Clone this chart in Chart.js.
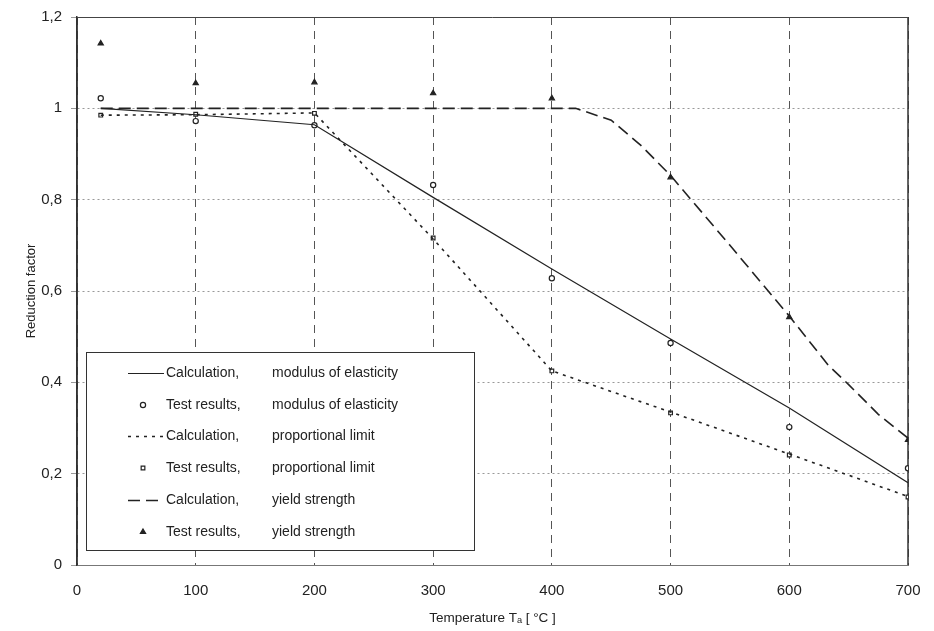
<!DOCTYPE html>
<html><head><meta charset="utf-8">
<script src="https://cdn.jsdelivr.net/npm/chart.js@4.4.0/dist/chart.umd.min.js"></script>
<style>html,body{margin:0;padding:0;background:#fff}#wrap{width:934px;height:631px}</style>
</head><body><div id="wrap"><canvas id="c" width="934" height="631"></canvas></div>
<script>
// Temperatures [°C]
const temps = [20, 100, 200, 300, 400, 500, 600, 700];
const calcModulus = [1.0, 0.986, 0.964, 0.805, 0.648, 0.495, 0.344, 0.18];
const testModulus = [1.022, 0.972, 0.963, 0.832, 0.628, 0.486, 0.302, 0.212];
const calcProp = [0.985, 0.986, 0.99, 0.714, 0.425, 0.335, 0.243, 0.15];
const testProp = [0.985, 0.987, 0.989, 0.716, 0.425, 0.333, 0.241, 0.149];
const yieldTemps = [20, 100, 200, 300, 400, 420, 450, 475, 500, 550, 600, 633, 650, 675, 700];
const calcYield = [1.0, 1.0, 1.0, 1.0, 1.0, 1.0, 0.974, 0.919, 0.853, 0.70, 0.545, 0.437, 0.395, 0.33, 0.278];
const testYield = [1.142, 1.055, 1.057, 1.033, 1.022, 0.849, 0.543, 0.274];
const xTicks = [0, 100, 200, 300, 400, 500, 600, 700];
const yTicks = [0, 0.2, 0.4, 0.6, 0.8, 1, 1.2];
const labels = [
  'Calculation, modulus of elasticity',
  'Test results, modulus of elasticity',
  'Calculation, proportional limit',
  'Test results, proportional limit',
  'Calculation, yield strength',
  'Test results, yield strength'
];

const pts = (xs, ys) => xs.map((x, i) => ({x, y: ys[i]}));
const INK = '#222';
const FONT = '"Liberation Sans", Arial, sans-serif';

const framePlugin = {
  id: 'frame',
  beforeDatasetsDraw(chart) {
    const {ctx, chartArea: a} = chart;
    ctx.save();
    ctx.strokeStyle = '#333';
    ctx.lineWidth = 1.5;
    ctx.beginPath();
    ctx.moveTo(a.right, a.top); ctx.lineTo(a.right, a.bottom);
    ctx.moveTo(a.left, a.top); ctx.lineTo(a.left, a.bottom);
    ctx.stroke();
    ctx.lineWidth = 1;
    ctx.strokeStyle = '#444';
    ctx.beginPath();
    ctx.moveTo(a.left, a.top + 0.5); ctx.lineTo(a.right, a.top + 0.5);
    ctx.stroke();
    ctx.restore();
  }
};

const legendPlugin = {
  id: 'boxLegend',
  afterDatasetsDraw(chart) {
    const {ctx, chartArea: a} = chart;
    const W = 388, H = 198;
    const L = a.left + 9, B = a.bottom - 15, T = B - H;
    ctx.save();
    ctx.fillStyle = '#fff';
    ctx.fillRect(L, T, W, H);
    ctx.strokeStyle = '#333';
    ctx.lineWidth = 1;
    ctx.setLineDash([]);
    ctx.strokeRect(L + 0.5, T + 0.5, W, H);
    ctx.font = '14px ' + FONT;
    ctx.textBaseline = 'middle';
    chart.data.datasets.forEach((ds, i) => {
      const y = Math.round(T + 21 + i * 31.7);
      ctx.strokeStyle = INK;
      if (ds.showLine !== false) {
        ctx.save();
        ctx.lineWidth = ds.borderWidth;
        ctx.setLineDash(ds.borderDash || []);
        ctx.beginPath();
        ctx.moveTo(L + 42, y + 0.5); ctx.lineTo(L + 78, y + 0.5);
        ctx.stroke();
        ctx.restore();
      } else {
        ctx.save();
        ctx.fillStyle = ds.pointBackgroundColor;
        ctx.strokeStyle = ds.pointBorderColor;
        ctx.lineWidth = ds.pointBorderWidth;
        Chart.helpers.drawPoint(ctx, {pointStyle: ds.pointStyle, radius: ds.pointRadius, borderWidth: ds.pointBorderWidth, rotation: 0}, L + 57, y);
        ctx.restore();
      }
      const parts = ds.label.split(', ');
      ctx.fillStyle = INK;
      ctx.fillText(parts[0] + ',', L + 80, y);
      ctx.fillText(parts[1], L + 186, y);
    });
    ctx.restore();
  }
};

const lineDs = (label, data, dash, width) => ({
  label, data, showLine: true, borderColor: INK, borderWidth: width,
  borderDash: dash, pointRadius: 0, fill: false, tension: 0
});
const markDs = (label, data, style, r, filled) => ({
  label, data, showLine: false, pointStyle: style, pointRadius: r,
  pointBorderColor: INK, pointBackgroundColor: filled ? INK : '#fff',
  pointBorderWidth: 1.2, borderColor: INK, backgroundColor: filled ? INK : '#fff'
});

new Chart(document.getElementById('c'), {
  type: 'line',
  data: {
    datasets: [
      lineDs(labels[0], pts(temps, calcModulus), [], 1.2),
      markDs(labels[1], pts(temps, testModulus), 'circle', 2.6, false),
      lineDs(labels[2], pts(temps, calcProp), [3, 5], 1.6),
      markDs(labels[3], pts(temps, testProp), 'rect', 2.6, false),
      lineDs(labels[4], pts(yieldTemps, calcYield), [12, 6], 1.6),
      markDs(labels[5], pts(temps, testYield), 'triangle', 3, true)
    ]
  },
  options: {
    responsive: false,
    devicePixelRatio: 1,
    animation: false,
    layout: {padding: {left: 0, right: 26, top: 17, bottom: 0}},
    plugins: {legend: {display: false}, tooltip: {enabled: false}},
    scales: {
      x: {
        type: 'linear', min: 0, max: 700,
        afterFit: s => { s.height = 66; s.paddingLeft = 0; s.paddingRight = 0; },
        afterBuildTicks: s => { s.ticks = xTicks.map(v => ({value: v})); },
        ticks: {color: INK, font: {family: FONT, size: 15}, padding: 17},
        grid: {color: '#555', lineWidth: 1, drawTicks: false},
        border: {display: true, color: '#777', width: 1, dash: [8, 6]},
        title: {display: true, text: 'Temperature Tₐ [ °C ]', color: INK, font: {family: FONT, size: 13.5}, padding: {top: 0, bottom: 5}}
      },
      y: {
        type: 'linear', min: 0, max: 1.2,
        afterFit: s => { s.width = 77; s.paddingTop = 0; s.paddingBottom = 0; },
        afterBuildTicks: s => { s.ticks = yTicks.map(v => ({value: v})); },
        ticks: {color: INK, font: {family: FONT, size: 15}, padding: 9,
          callback: v => String(Math.round(v * 10) / 10).replace('.', ',')},
        grid: {color: '#999', lineWidth: 1, tickLength: 6, drawTicks: true},
        border: {display: true, color: '#333', width: 1.5, dash: [2, 3]},
        title: {display: true, text: 'Reduction factor', color: INK, font: {family: FONT, size: 13}, padding: {top: 24, bottom: 0}}
      }
    }
  },
  plugins: [framePlugin, legendPlugin]
});
</script>
</body></html>
